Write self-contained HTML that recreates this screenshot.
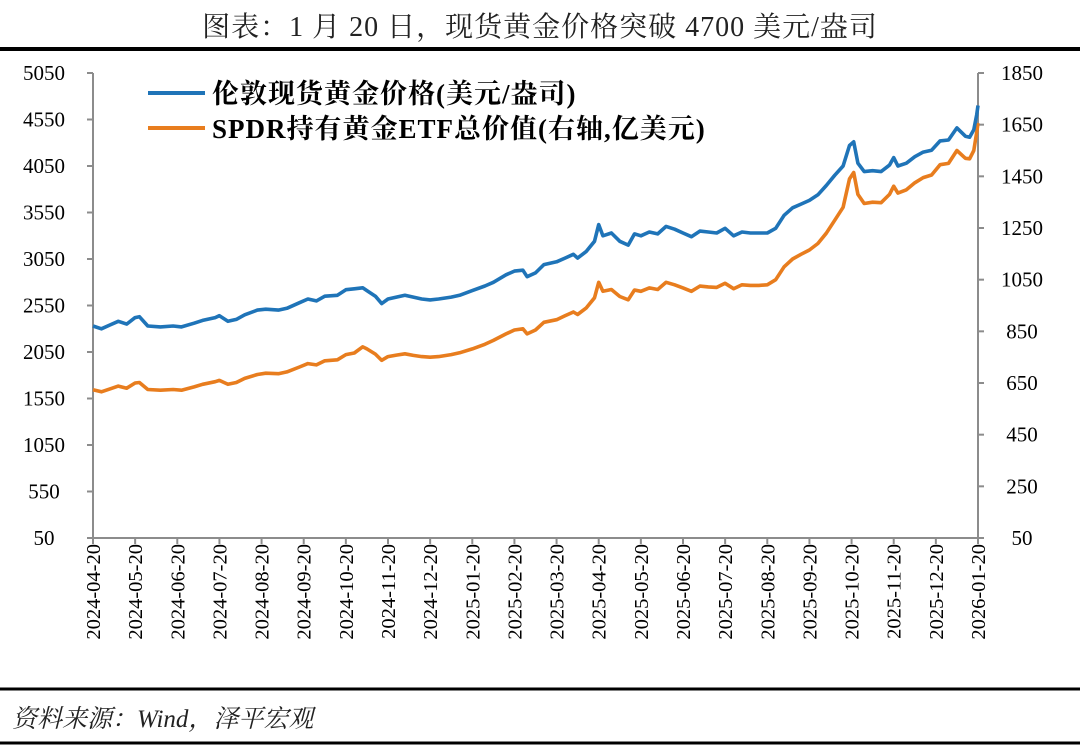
<!DOCTYPE html>
<html><head><meta charset="utf-8"><style>
body{margin:0;background:#fff;width:1080px;height:746px;overflow:hidden}
svg{display:block}
</style></head><body>
<svg id="chart" width="1080" height="746">
<text x="540" y="36" text-anchor="middle" font-family="'Liberation Serif','Noto Serif CJK SC',serif" font-size="28" letter-spacing="1" fill="#222">图表：1 月 20 日，现货黄金价格突破 4700 美元/盎司</text>
<line x1="0" y1="49" x2="1080" y2="49" stroke="#000" stroke-width="4"/>
<line x1="0" y1="689" x2="1080" y2="689" stroke="#000" stroke-width="3"/>
<line x1="0" y1="743" x2="1080" y2="743" stroke="#000" stroke-width="3"/>
<text x="12" y="727" font-family="'Liberation Serif','Noto Serif CJK SC',serif" font-style="italic" font-size="25" fill="#222">资料来源：Wind，泽平宏观</text>
<g id="axes"></g>
<g id="series"></g>
<g font-family="'Liberation Serif','Noto Serif CJK SC',serif" font-weight="bold" font-size="27" fill="#000">
<line x1="148" y1="93" x2="205" y2="93" stroke="#1f74b8" stroke-width="4"/>
<text x="212" y="103" letter-spacing="1">伦敦现货黄金价格(美元/盎司)</text>
<line x1="148" y1="128" x2="205" y2="128" stroke="#e87d1e" stroke-width="4"/>
<text x="212" y="138" letter-spacing="1">SPDR持有黄金ETF总价值(右轴,亿美元)</text>
</g>
</svg>
<script>
const xLabels=["2024-04-20","2024-05-20","2024-06-20","2024-07-20","2024-08-20","2024-09-20","2024-10-20","2024-11-20","2024-12-20","2025-01-20","2025-02-20","2025-03-20","2025-04-20","2025-05-20","2025-06-20","2025-07-20","2025-08-20","2025-09-20","2025-10-20","2025-11-20","2025-12-20","2026-01-20"];
const leftTicks=[50,550,1050,1550,2050,2550,3050,3550,4050,4550,5050];
const rightTicks=[50,250,450,650,850,1050,1250,1450,1650,1850];
const months=[0,0.2,0.4,0.6,0.8,1.0,1.1,1.3,1.6,1.9,2.1,2.4,2.6,2.9,3.0,3.2,3.4,3.6,3.9,4.1,4.4,4.6,4.9,5.1,5.3,5.5,5.8,6.0,6.2,6.4,6.5,6.7,6.85,7.0,7.2,7.4,7.6,7.8,8.0,8.2,8.5,8.7,9.0,9.3,9.5,9.8,10.0,10.2,10.3,10.5,10.7,11.0,11.2,11.4,11.5,11.7,11.9,12.0,12.1,12.3,12.5,12.7,12.85,13.0,13.2,13.4,13.6,13.8,14.0,14.2,14.4,14.6,14.8,15.0,15.2,15.4,15.6,15.8,16.0,16.2,16.4,16.6,16.8,17.0,17.2,17.4,17.6,17.8,17.95,18.05,18.15,18.3,18.5,18.7,18.9,19.0,19.1,19.3,19.5,19.7,19.9,20.1,20.3,20.5,20.7,20.8,20.9,20.97,21.0];
const goldPrice=[2330,2300,2340,2380,2350,2420,2430,2330,2320,2330,2320,2360,2390,2420,2440,2380,2400,2450,2500,2510,2500,2520,2580,2620,2600,2650,2660,2720,2730,2740,2710,2650,2570,2620,2640,2660,2640,2620,2610,2620,2640,2660,2710,2760,2800,2880,2920,2930,2860,2900,2990,3020,3060,3100,3060,3130,3240,3420,3300,3330,3240,3200,3320,3300,3340,3320,3400,3370,3330,3290,3350,3340,3330,3380,3300,3340,3330,3330,3330,3380,3520,3600,3640,3680,3740,3840,3950,4050,4270,4310,4080,3990,4000,3990,4060,4140,4050,4080,4150,4200,4220,4320,4330,4460,4370,4360,4440,4600,4700];
const etfValue=[624,616,627,638,630,650,652,625,622,625,622,635,645,655,660,645,652,668,683,688,686,693,712,725,720,736,740,760,766,790,782,762,738,752,758,763,757,752,750,752,760,767,782,800,815,840,855,860,840,855,885,895,910,925,915,940,980,1040,1005,1012,985,972,1010,1005,1018,1012,1040,1030,1018,1005,1025,1022,1020,1036,1015,1030,1028,1028,1030,1050,1100,1130,1148,1165,1190,1230,1280,1330,1440,1465,1380,1345,1350,1348,1380,1412,1385,1398,1425,1445,1455,1495,1500,1550,1520,1518,1550,1620,1656];

const X0=93,X1=978,Y0=73,Y1=538;
const xs=m=>X0+m*(X1-X0)/21;
const yl=v=>Y0+(5050-v)*(Y1-Y0)/5000;
const yr=v=>Y0+(1850-v)*(Y1-Y0)/1800;
const NS="http://www.w3.org/2000/svg";
const ax=document.getElementById('axes'),se=document.getElementById('series');
function mk(tag,attrs,parent){const e=document.createElementNS(NS,tag);for(const k in attrs)e.setAttribute(k,attrs[k]);parent.appendChild(e);return e;}
const font="'Liberation Serif',serif";
let e;
e=mk('line',{x1:X0,y1:Y0,x2:X0,y2:Y1,stroke:'#8c8c8c','stroke-width':2},ax);


e=mk('line',{x1:X1,y1:Y0,x2:X1,y2:Y1,stroke:'#8c8c8c','stroke-width':2},ax);


e=mk('line',{x1:X0,y1:Y1,x2:X1,y2:Y1,stroke:'#8c8c8c','stroke-width':2},ax);


leftTicks.forEach(v=>{const y=yl(v);
 mk('line',{x1:X0-6,y1:y,x2:X0,y2:y,stroke:'#8c8c8c','stroke-width':2},ax);
 e=mk('text',{x:X0-49,y:y+7,'text-anchor':'middle','font-family':font,'font-size':21,fill:'#000'},ax);e.textContent=v;
 
 });
rightTicks.forEach(v=>{const y=yr(v);
 mk('line',{x1:X1,y1:y,x2:X1+6,y2:y,stroke:'#8c8c8c','stroke-width':2},ax);
 e=mk('text',{x:X1+44,y:y+7,'text-anchor':'middle','font-family':font,'font-size':21,fill:'#000'},ax);e.textContent=v;
 
 });
xLabels.forEach((l,i)=>{const x=xs(i);
 mk('line',{x1:x,y1:Y1,x2:x,y2:Y1+6,stroke:'#8c8c8c','stroke-width':2},ax);
 e=mk('text',{x:0,y:0,'text-anchor':'end','font-family':font,'font-size':20.5,fill:'#000',transform:`translate(${x+7},${Y1+6}) rotate(-90)`},ax);e.textContent=l;
 
 });
function line(vals,yf,color,name){
 const d=vals.map((v,i)=>(i?'L':'M')+xs(months[i]).toFixed(1)+','+yf(v).toFixed(1)).join('');
 const p=mk('path',{d:d,fill:'none',stroke:color,'stroke-width':3.6,'stroke-linejoin':'round'},se);
 
 
}
line(etfValue,yr,'#e87d1e','etf-value-line');
line(goldPrice,yl,'#1f74b8','gold-price-line');
</script>
</body></html>
